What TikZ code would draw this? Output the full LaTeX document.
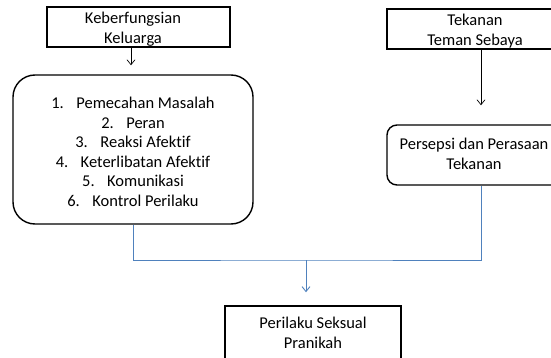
\documentclass[tikz,border=0pt]{standalone}
\usepackage{fontspec}
\setmainfont{Carlito}[Ligatures=NoCommon]
\usetikzlibrary{arrows.meta}
\definecolor{linkblue}{RGB}{79,129,189}
\begin{document}
\begin{tikzpicture}[x=1pt,y=-1pt,
  box/.style={draw=black, line width=1.4pt, inner sep=0pt},
  rbox/.style={draw=black, line width=1.4pt, inner sep=0pt, rounded corners=22pt},
  lbl/.style={font=\fontsize{16.5}{19.5}\selectfont, align=center, inner sep=0pt},
  arr/.style={line width=0.7pt, -{Straight Barb[length=5pt,width=8pt]}},
  bline/.style={draw=linkblue, line width=0.9pt},
  barr/.style={draw=linkblue, line width=0.9pt, -{Straight Barb[length=5pt,width=8pt]}}
]
\useasboundingbox (0,0) rectangle (551,358);
\clip (0,0) rectangle (551,358);

% top left
\node[box, minimum width=183pt, minimum height=40pt] (kf) at (138.5,27) {};
\node[lbl] (kft) at (133,29) {Keberfungsian\\Keluarga};

% family functions list
\node[rbox, minimum width=240pt, minimum height=149pt] (fam) at (133,149.5) {};
\node[lbl] (famt) at (133,152) {%
\makebox[25pt][l]{1.}Pemecahan Masalah\\
\makebox[25pt][l]{2.}Peran\\
\makebox[25pt][l]{3.}Reaksi Afektif\\
\makebox[25pt][l]{4.}Keterlibatan Afektif\\
\makebox[25pt][l]{5.}Komunikasi\\
\makebox[25pt][l]{6.}Kontrol Perilaku};

% top right
\node[box, minimum width=188pt, minimum height=40pt] (tk) at (481,29) {};
\node[lbl] (tkt) at (475,31) {Tekanan\\Teman Sebaya};

% perception
\node[rbox, rounded corners=10pt, minimum width=188pt, minimum height=60pt] (per) at (481,155) {};
\node[lbl] (pert) at (474,154) {Persepsi dan Perasaan\\Tekanan};

% bottom
\node[box, minimum width=176pt, minimum height=80pt] (pk) at (313,346) {};
\node[lbl] (pkt) at (313,333) {Perilaku Seksual\\Pranikah};

% connectors
\draw[arr, shorten >=9pt] ([xshift=-7.5pt]kf.south) -- ([xshift=-2pt]fam.north);
\draw[arr, shorten >=19pt] (tk.south) -- (per.north);
\coordinate (j) at (306,260);
\draw[bline] (fam.south) |- (j) -| (per.south);
\draw[barr, shorten >=13pt] (j) -- (j |- pk.north);
\end{tikzpicture}
\end{document}
